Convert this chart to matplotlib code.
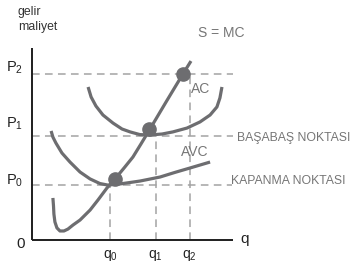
import matplotlib
matplotlib.use("Agg")
import matplotlib.pyplot as plt

plt.rcParams['font.family'] = ['Liberation Sans', 'DejaVu Sans']
plt.rcParams['mathtext.fontset'] = 'custom'
plt.rcParams['mathtext.rm'] = 'Liberation Sans'
plt.rcParams['mathtext.it'] = 'Liberation Sans:italic'

# ---- data (economic units: q on x, price/cost on y) ----
q_levels = [39, 61.5, 78.5]            # q0, q1, q2
p_levels = [28.6, 54.2, 86.5]          # P0, P1, P2
q_labels = [r'q$\mathregular{_0}$', r'q$\mathregular{_1}$', r'q$\mathregular{_2}$']
p_labels = [r'P$\mathregular{_0}$', r'P$\mathregular{_1}$', r'P$\mathregular{_2}$']

mc_q = [10.4, 10.7, 10.9, 11.4, 12.4, 13.9, 15.9, 17.9, 20.4, 23.9, 28.9, 32.8,
        37.3, 41.3, 45.8, 50.2, 54.2, 58.7, 66.7, 75.1, 79.1]
mc_p = [21.9, 17.7, 13.5, 9.4, 6.3, 4.7, 4.7, 5.7, 7.8, 10.4, 15.6, 20.8,
        27.1, 31.8, 37.5, 43.2, 50.0, 57.8, 71.9, 86.5, 93.2]

ac_q = [27.9, 29.4, 31.8, 35.3, 40.3, 44.8, 48.8, 53.7, 58.7, 64.7, 70.1, 77.1,
        83.6, 88.6, 92.0, 93.5, 94.5]
ac_p = [79.7, 74.5, 69.8, 65.1, 60.9, 57.8, 56.3, 54.9, 54.7, 55.2, 56.3, 58.3,
        61.5, 65.1, 69.3, 74.0, 79.7]

avc_q = [9.5, 10.4, 11.9, 14.9, 18.9, 23.9, 28.9, 33.8, 37.8, 43.8, 53.7, 63.7,
         71.1, 78.6, 88.6]
avc_p = [56.8, 53.6, 50.5, 45.3, 40.6, 35.4, 31.8, 29.4, 28.6, 29.2, 30.7, 32.8,
         35.2, 37.5, 40.6]

dot_q = [41.3, 58.2, 75.1]
dot_p = [31.8, 57.8, 86.5]

# ---- figure ----
W, H = 350, 264
fig = plt.figure(figsize=(W / 100, H / 100), dpi=100)
fig.patch.set_facecolor('white')
ox, oy, aw, ah = 32, 240, 201, 192
ax = fig.add_axes([ox / W, (H - oy) / H, aw / W, ah / H])
ax.set_xlim(0, 100)
ax.set_ylim(0, 100)
ax.axis('off')

curve_c = '#6d6d70'
dash_c = '#a3a3a3'
txt_c = '#767676'

# dashed guides
for q, p in zip(q_levels, p_levels):
    ax.plot([q, q], [0, p], color=dash_c, lw=1.1, ls=(0, (5, 3.5)), zorder=1)
for p, xe in zip(p_levels, [99.5, 100, 100]):
    ax.plot([0, xe], [p, p], color=dash_c, lw=1.1, ls=(0, (5, 3.5)), zorder=1)

# axes lines
ax.plot([0, 0], [0, 100], color='#1e1e1e', lw=1.4, clip_on=False, zorder=3, solid_capstyle='butt')
ax.plot([0, 100], [0, 0], color='#1e1e1e', lw=1.4, clip_on=False, zorder=3, solid_capstyle='butt')

# curves
for xs, ys in [(mc_q, mc_p), (ac_q, ac_p), (avc_q, avc_p)]:
    ax.plot(xs, ys, color=curve_c, lw=2.3, zorder=2, clip_on=False,
            solid_capstyle='butt', solid_joinstyle='round')
ax.plot(dot_q, dot_p, 'o', color=curve_c, ms=9.5, zorder=4, clip_on=False)

# labels
ax.text(-7, 118.5, 'gelir', fontsize=8.8, color='#333333', ha='left', va='center', clip_on=False)
ax.text(-7, 111.0, 'maliyet', fontsize=8.8, color='#333333', ha='left', va='center', clip_on=False)
ax.text(94.3, 107.8, 'S = MC', fontsize=10, color=txt_c, ha='center', va='center', clip_on=False)
ax.text(84.1, 78.6, 'AC', fontsize=10, color=txt_c, ha='center', va='center', clip_on=False)
ax.text(80.8, 45.8, 'AVC', fontsize=10, color=txt_c, ha='center', va='center', clip_on=False)
ax.text(102, 53.1, 'BAŞABAŞ NOKTASI', fontsize=8.8, color=txt_c, ha='left', va='center', clip_on=False)
ax.text(99, 30.7, 'KAPANMA NOKTASI', fontsize=8.8, color=txt_c, ha='left', va='center', clip_on=False)

for p, lab, py in zip(p_levels, p_labels, [30.7, 60.4, 89.6]):
    ax.text(-4.5, py, lab, fontsize=10.5, color='#222222', ha='right', va='center', clip_on=False)
for q, lab in zip(q_levels, q_labels):
    ax.text(q, -8.3, lab, fontsize=10, color='#222222', ha='center', va='center', clip_on=False)
ax.text(-5.5, -2.1, '0', fontsize=11, color='#222222', ha='center', va='center', clip_on=False)
ax.text(106, 0.5, 'q', fontsize=11, color='#222222', ha='center', va='center', clip_on=False)

fig.savefig('out.png', dpi=100, facecolor='white')
